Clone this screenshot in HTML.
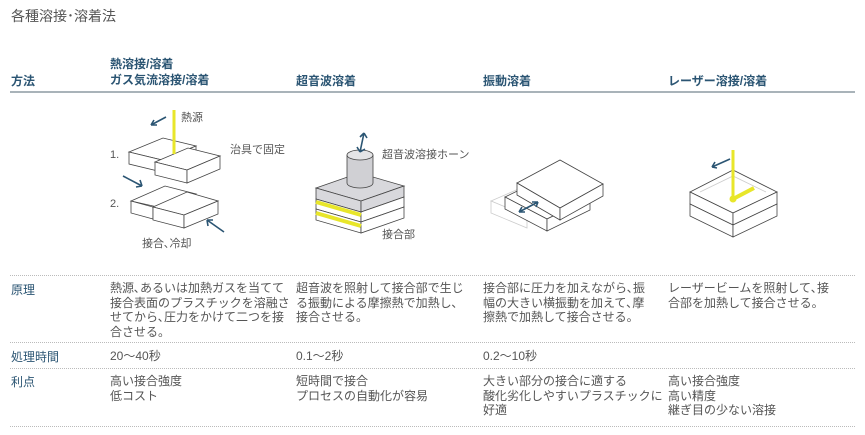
<!DOCTYPE html>
<html><head><meta charset="utf-8"><style>
body{margin:0;width:865px;height:435px;background:#fff;font-family:"Liberation Sans","Noto Sans CJK JP",sans-serif;position:relative;overflow:hidden}
.a{position:absolute;white-space:nowrap}
.t{font-size:12px;color:#555;line-height:14.5px}
.h{font-size:12px;color:#2b5573;font-weight:bold}
.l{position:absolute;left:10px;width:845px;border-top:1px dotted #bbb}
svg{position:absolute;left:0;top:0}
</style></head><body>
<div class="a" style="left:11px;top:6px;font-size:14px;color:#555">各種溶接･溶着法</div>
<div class="a h" style="left:11px;top:72px">方法</div>
<div class="a h" style="left:110px;top:56px;line-height:16px">熱溶接/溶着<br>ガス気流溶接/溶着</div>
<div class="a h" style="left:296px;top:72px">超音波溶着</div>
<div class="a h" style="left:483px;top:72px">振動溶着</div>
<div class="a h" style="left:668px;top:72px">レーザー溶接/溶着</div>
<div style="position:absolute;left:10px;top:91px;width:845px;border-top:2px solid #a9b3b9"></div>
<div class="l" style="top:275px"></div>
<div class="l" style="top:342px"></div>
<div class="l" style="top:368px"></div>
<div class="l" style="top:426px"></div>
<div class="a h" style="left:11px;top:281px;font-weight:normal">原理</div>
<div class="a h" style="left:11px;top:348px;font-weight:normal">処理時間</div>
<div class="a h" style="left:11px;top:373px;font-weight:normal">利点</div>
<div class="a t" style="left:110px;top:281px">熱源､あるいは加熱ガスを当てて<br>接合表面のプラスチックを溶融さ<br>せてから､圧力をかけて二つを接<br>合させる。</div>
<div class="a t" style="left:296px;top:281px">超音波を照射して接合部で生じ<br>る振動による摩擦熱で加熱し､<br>接合させる。</div>
<div class="a t" style="left:483px;top:281px">接合部に圧力を加えながら､振<br>幅の大きい横振動を加えて､摩<br>擦熱で加熱して接合させる。</div>
<div class="a t" style="left:668px;top:281px">レーザービームを照射して､接<br>合部を加熱して接合させる。</div>
<div class="a t" style="left:110px;top:349px">20～40秒</div>
<div class="a t" style="left:296px;top:349px">0.1～2秒</div>
<div class="a t" style="left:483px;top:349px">0.2～10秒</div>
<div class="a t" style="left:110px;top:374px">高い接合強度<br>低コスト</div>
<div class="a t" style="left:296px;top:374px">短時間で接合<br>プロセスの自動化が容易</div>
<div class="a t" style="left:483px;top:374px">大きい部分の接合に適する<br>酸化劣化しやすいプラスチックに<br>好適</div>
<div class="a t" style="left:668px;top:374px">高い接合強度<br>高い精度<br>継ぎ目の少ない溶接</div>
<div class="a t" style="left:181px;top:111px;font-size:11px">熱源</div>
<div class="a t" style="left:230px;top:143px;font-size:11px">治具で固定</div>
<div class="a t" style="left:110px;top:148px;font-size:11px">1.</div>
<div class="a t" style="left:110px;top:197px;font-size:11px">2.</div>
<div class="a t" style="left:142px;top:237px;font-size:11px">接合､冷却</div>
<div class="a t" style="left:382px;top:148px;font-size:11px">超音波溶接ホーン</div>
<div class="a t" style="left:382px;top:228px;font-size:11px">接合部</div>
<svg width="865" height="435" fill="#fff" stroke="#444" stroke-width="0.8">
<polygon points="129,152 163,138 196,146 162,160"/><polygon points="129,152 162,160 162,172 129,164"/><polygon points="162,160 196,146 196,152 162,172" />
<polygon points="155,162 188,148 220,156 187,170"/><polygon points="155,162 187,170 187,183 155,175"/><polygon points="187,170 220,156 220,169 187,183"/>
<line x1="174" y1="110" x2="174" y2="154" stroke="#e8e62a" stroke-width="3"/>
<polygon points="131,201 165,186 196,194 162,208"/><polygon points="131,201 153,207 153,219 131,213"/>
<polygon points="153,207 187,192 218,201 184,215"/><polygon points="153,207 184,215 184,228 153,220"/><polygon points="184,215 218,201 218,214 184,228"/>
<polygon points="316,188 359,173 404,186 361,201" fill="#d8d8dc"/><polygon points="316,188 361,201 361,212 316,199" fill="#d8d8dc"/><polygon points="361,201 404,186 404,197 361,212" fill="#d8d8dc"/>
<polygon points="316,199 361,212 361,222 316,209"/><polygon points="361,212 404,197 404,207 361,222"/>
<line x1="316" y1="202" x2="361" y2="215" stroke="#e8e62a" stroke-width="4"/>
<polygon points="316,209 361,222 361,233 316,220"/><polygon points="361,222 404,207 404,218 361,233"/>
<line x1="316" y1="213" x2="361" y2="226" stroke="#e8e62a" stroke-width="4"/>
<path d="M347,155 v28 a13,5 0 0 0 26,0 v-28" fill="#d0d0d4"/><ellipse cx="360" cy="155" rx="13" ry="5" fill="#e4e4e6"/>
<polygon points="491,201 530,184 566,200 527,216" stroke="#ccc"/><polygon points="491,201 527,216 527,228 491,213" stroke="#ccc"/>
<polygon points="505,197 548,176 590,198 547,219"/><polygon points="505,197 547,219 547,231 505,209"/><polygon points="547,219 590,198 590,210 547,231"/>
<polygon points="517,183 560,160 603,184 560,208"/><polygon points="517,183 560,208 560,220 517,195"/><polygon points="560,208 603,184 603,196 560,220"/>
<polygon points="690,192 733,170 777,192 733,213"/><polygon points="690,192 733,213 733,225 690,204"/><polygon points="733,213 777,192 777,204 733,225"/>
<polygon points="690,204 733,225 733,237 690,216"/><polygon points="733,225 777,204 777,216 733,237"/>
<path d="M700,192 L733,176 L766,192" fill="none" stroke="#ccc"/>
<line x1="733" y1="150" x2="733" y2="199" stroke="#e8e62a" stroke-width="3"/>
<line x1="733" y1="199" x2="754" y2="188" stroke="#e8e62a" stroke-width="4"/>
<circle cx="733" cy="199" r="3.5" fill="#e8e62a" stroke="none"/>
<g stroke="#2b5573" stroke-width="1.6" fill="none">
<path d="M166,117 L151,125 M151,125 l6,0 M151,125 l3,-5"/>
<path d="M123,176 L142,186 M142,186 l-2,-6 M142,186 l-6,1"/>
<path d="M224,232 L207,220 M207,220 l1,6 M207,220 l6,0"/>
<path d="M364,133 L360,152 M364,133 l-4,4 M364,133 l3,5 M360,152 l-3,-5 M360,152 l5,-3"/>
<path d="M519,212 L538,202 M538,202 l-6,0 M538,202 l-2,5 M519,212 l6,0 M519,212 l3,-5"/>
<path d="M730,159 L712,167 M712,167 l5,1 M712,167 l3,-5"/>
</g>
</svg>
</body></html>
